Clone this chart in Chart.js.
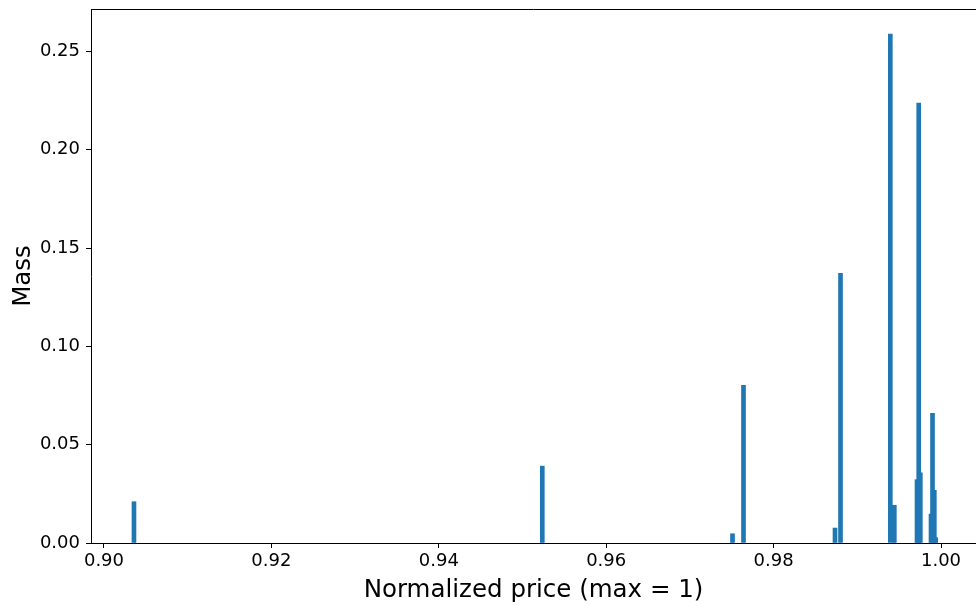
<!DOCTYPE html>
<html>
<head>
<meta charset="utf-8">
<script src="https://cdn.jsdelivr.net/npm/chart.js@4"></script>
<style>
    body { margin: 0; background: #fff; }
    canvas { display: block; }
</style>
</head>
<body>
<canvas id="massChart" width="976" height="606"></canvas>
<script>
// Price points (normalized, max = 1) and their mass
const prices = [0.903584, 0.952366, 0.975090, 0.976404, 0.987336, 0.987993,
    0.993943, 0.994421, 0.997133, 0.997336, 0.997527,
    0.998805, 0.998984, 0.999200, 0.999367];
const mass = [0.0210, 0.0391, 0.0047, 0.0802, 0.0076, 0.1371,
    0.2588, 0.0192, 0.0322, 0.2238, 0.0357,
    0.0147, 0.0660, 0.0268, 0.0027];

const xTicks = [0.90, 0.92, 0.94, 0.96, 0.98, 1.00];
const yTicks = [0.00, 0.05, 0.10, 0.15, 0.20, 0.25];

// Short bars first so the tall ones paint on top where they overlap
const points = prices.map((p, i) => ({ x: p, y: mass[i] }))
    .sort((a, b) => a.y - b.y);

// Top frame line of the axes box
const frameTop = {
    id: 'frameTop',
    afterDraw(chart) {
        const { ctx, chartArea } = chart;
        ctx.save();
        ctx.strokeStyle = '#000';
        ctx.lineWidth = 1;
        ctx.beginPath();
        ctx.moveTo(chartArea.left, chartArea.top + 0.5);
        ctx.lineTo(chartArea.right, chartArea.top + 0.5);
        ctx.stroke();
        ctx.restore();
    }
};

function createChart() {
    const ctx = document.getElementById('massChart').getContext('2d');
    new Chart(ctx, {
        type: 'bar',
        data: {
            datasets: [{
                data: points,
                backgroundColor: '#1f77b4',
                borderWidth: 0,
                barThickness: 4
            }]
        },
        options: {
            responsive: false,
            animation: false,
            layout: { padding: { top: 9, right: 0, left: 0, bottom: 0 } },
            plugins: {
                legend: { display: false },
                tooltip: { enabled: false }
            },
            scales: {
                x: {
                    type: 'linear',
                    min: 0.89845,
                    max: 1.00418,
                    offset: false,
                    afterFit: scale => {
                        scale.height = 63;
                        scale.paddingLeft = 0;
                        scale.paddingRight = 0;
                    },
                    afterBuildTicks: axis => { axis.ticks = xTicks.map(v => ({ value: v })); },
                    grid: { offset: false, drawOnChartArea: false, tickLength: 5, color: '#000' },
                    border: { display: true, color: '#000', width: 1 },
                    ticks: {
                        color: '#000',
                        padding: 3,
                        maxRotation: 0,
                        autoSkip: false,
                        font: { family: 'DejaVu Sans', size: 18 },
                        callback: v => v.toFixed(2)
                    },
                    title: {
                        display: true,
                        text: 'Normalized price (max = 1)',
                        color: '#000',
                        padding: { top: 1, bottom: 1 },
                        font: { family: 'DejaVu Sans', size: 24.5 }
                    }
                },
                y: {
                    min: 0,
                    max: 0.2716,
                    afterFit: scale => {
                        scale.width = 91;
                        scale.paddingTop = 0;
                        scale.paddingBottom = 0;
                    },
                    afterBuildTicks: axis => { axis.ticks = yTicks.map(v => ({ value: v })); },
                    grid: { drawOnChartArea: false, tickLength: 5, color: '#000' },
                    border: { display: true, color: '#000', width: 1 },
                    ticks: {
                        color: '#000',
                        padding: 6,
                        autoSkip: false,
                        font: { family: 'DejaVu Sans', size: 18 },
                        callback: v => v.toFixed(2)
                    },
                    title: {
                        display: true,
                        text: 'Mass',
                        color: '#000',
                        padding: { top: 9, bottom: 9 },
                        font: { family: 'DejaVu Sans', size: 24.5 }
                    }
                }
            }
        },
        plugins: [frameTop]
    });
}

document.addEventListener('DOMContentLoaded', createChart);
</script>
</body>
</html>
